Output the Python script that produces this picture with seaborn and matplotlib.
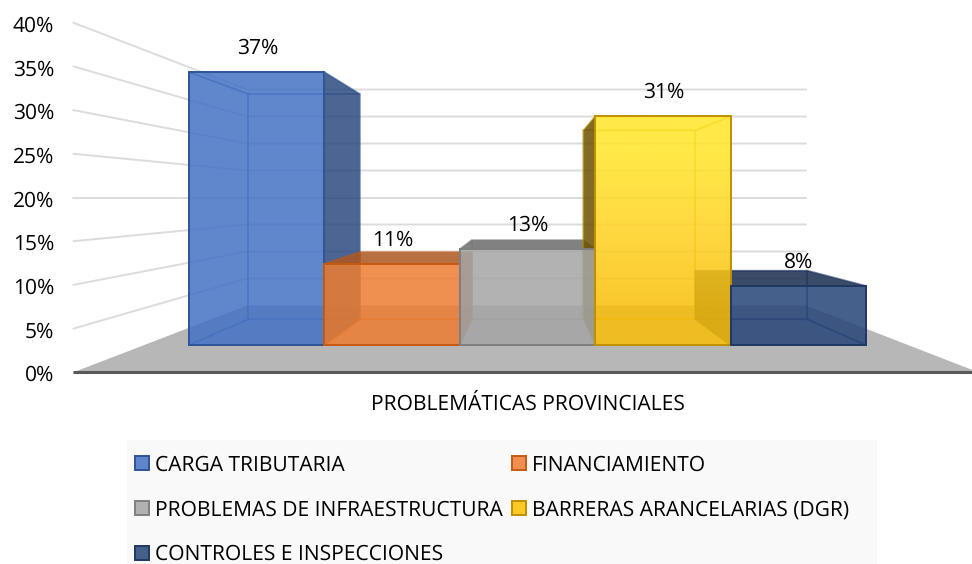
import matplotlib
matplotlib.use("Agg")
import matplotlib.pyplot as plt
import seaborn as sns
from matplotlib.colors import to_rgba
from matplotlib.patches import Patch, Polygon, Rectangle

categorias = ["CARGA TRIBUTARIA", "FINANCIAMIENTO", "PROBLEMAS DE INFRAESTRUCTURA",
              "BARRERAS ARANCELARIAS (DGR)", "CONTROLES E INSPECCIONES"]
valores = [37, 11, 13, 31, 8]
etiquetas = ["37%", "11%", "13%", "31%", "8%"]
ticks_y = [0, 5, 10, 15, 20, 25, 30, 35, 40]
titulo_x = "PROBLEMÁTICAS PROVINCIALES"

colores = ["#4472c4", "#ed7d31", "#a5a5a5", "#ffc000", "#264478"]
bordes = ["#2f5597", "#c55a11", "#7f7f7f", "#bf9000", "#1f3864"]
lados = ["#2c4a7f", "#ad571f", "#6b6b6b", "#6b5100", "#192c4e"]

ALFA = 0.85
# perspectiva: punto de fuga en datos y escala de cada plano
FUGA_X, FUGA_Y = 2.0, 20.0
S_PARED_FRENTE, S_BARRA_FONDO, S_PARED_FONDO = 1.185, 0.826, 0.732
PISO_IZQ, PISO_DER = -0.83, 4.81


def proyectar(x, v, s):
    return FUGA_X + (x - FUGA_X) * s, FUGA_Y + (v - FUGA_Y) * s


sns.set_theme(style="white")
plt.rcParams["font.family"] = ["Open Sans", "DejaVu Sans"]
plt.rcParams["text.hinting"] = "no_hinting"
plt.rcParams["text.hinting_factor"] = 1
TXT = 15

fig = plt.figure(figsize=(9.72, 5.64), dpi=100)
ax = fig.add_axes([189 / 972, (564 - 345) / 564, 677 / 972, 295 / 564])

# barras del frente
sns.barplot(x=categorias, y=valores, hue=categorias, palette=colores, width=1,
            saturation=1, legend=False, ax=ax, zorder=5)
for p, c, b in zip(ax.patches, colores, bordes):
    p.set_facecolor(to_rgba(c, ALFA))
    p.set_edgecolor(b)
    p.set_linewidth(1.4)
    p.set_clip_on(False)

# la barra amarilla tiene degradado
amarilla = ax.patches[3]
amarilla.set_facecolor("none")
degradado = [[to_rgba("#ffe526", ALFA)], [to_rgba("#ffd21e", ALFA)], [to_rgba("#fabf08", ALFA)]]
img = ax.imshow(degradado, extent=(2.5, 3.5, 0, valores[3]), aspect="auto",
                interpolation="bilinear", zorder=4.9)
img.set_clip_path(amarilla)

ax.set_xlim(-0.5, 4.5)
ax.set_ylim(0, 40)
ax.axis("off")

# paredes y piso
for v in ticks_y[1:]:
    puntos = [proyectar(PISO_IZQ, v, S_PARED_FRENTE), proyectar(PISO_IZQ, v, S_PARED_FONDO),
              proyectar(PISO_DER, v, S_PARED_FONDO)]
    ax.plot(*zip(*puntos), color="#dcdcdc", lw=1.4, clip_on=False, zorder=1)
piso = [proyectar(PISO_IZQ, 0, S_PARED_FRENTE), proyectar(PISO_DER, 0, S_PARED_FRENTE),
        proyectar(PISO_DER, 0, S_PARED_FONDO), proyectar(PISO_IZQ, 0, S_PARED_FONDO)]
ax.add_patch(Polygon(piso, closed=True, fc="#b7b7b7", ec="none", clip_on=False, zorder=1.5))
ax.plot([piso[0][0], piso[1][0]], [piso[0][1], piso[1][1]], color="#595959", lw=2.2,
        clip_on=False, zorder=6, solid_capstyle="butt")
for v in ticks_y:
    x, y = proyectar(PISO_IZQ, v, S_PARED_FRENTE)
    ax.annotate(f"{v}%", (x, y), xytext=(-14, -2.5), textcoords="offset points", ha="right",
                va="center", fontsize=TXT, color="black", annotation_clip=False)


def cara(puntos, fc, ec, z):
    ax.add_patch(Polygon(puntos, closed=True, fc=fc, ec=ec, lw=1.2, clip_on=False, zorder=z))


# caras de fondo y laterales: las que quedan fuera del frente van oscuras
for i, v in enumerate(valores):
    izq, der = i - 0.5, i + 0.5
    borde = to_rgba(bordes[i], 0.4)
    tapa = [(izq, v), (der, v), proyectar(der, v, S_BARRA_FONDO), proyectar(izq, v, S_BARRA_FONDO)]
    lat_izq = [(izq, 0), (izq, v), proyectar(izq, v, S_BARRA_FONDO), proyectar(izq, 0, S_BARRA_FONDO)]
    lat_der = [(der, 0), (der, v), proyectar(der, v, S_BARRA_FONDO), proyectar(der, 0, S_BARRA_FONDO)]
    base = [(izq, 0), (der, 0), proyectar(der, 0, S_BARRA_FONDO), proyectar(izq, 0, S_BARRA_FONDO)]
    fondo = [proyectar(izq, 0, S_BARRA_FONDO), proyectar(der, 0, S_BARRA_FONDO),
             proyectar(der, v, S_BARRA_FONDO), proyectar(izq, v, S_BARRA_FONDO)]
    oscuro = to_rgba(lados[i], ALFA)
    z = 2 + i * 0.1
    cara(fondo, "none", borde, z)
    cara(base, "none", borde, z)
    cara(tapa, oscuro if v < FUGA_Y else "none", borde, z)
    cara(lat_izq, oscuro if izq > FUGA_X else "none", borde, z)
    cara(lat_der, oscuro if der < FUGA_X else "none", borde, z)

for i, (v, e) in enumerate(zip(valores, etiquetas)):
    ax.annotate(e, (i, v), xytext=(0.5, 17), textcoords="offset points", ha="center",
                va="center", fontsize=TXT, color="black", zorder=8, annotation_clip=False)

fig.text(528 / 972, 1 - 404 / 564, titulo_x, ha="center", va="center", fontsize=TXT, color="black")

# leyenda
fig.add_artist(Rectangle((127 / 972, 0), 750 / 972, 124 / 564, transform=fig.transFigure,
                         fc="#f9f9f9", ec="none"))
manijas = [Patch(fc=to_rgba(c, ALFA), ec=b, lw=1.4, label=n)
           for n, c, b in zip(categorias, colores, bordes)]
en_columnas = [manijas[0], manijas[2], manijas[4], manijas[1], manijas[3]]
fig.legend(handles=en_columnas, ncol=2, loc="upper left", frameon=False, fontsize=TXT,
           bbox_to_anchor=(127 / 972, 1 - 446.5 / 564), borderaxespad=0, borderpad=0.38,
           handlelength=0.67, handleheight=0.67, handletextpad=0.3, columnspacing=0.43,
           labelspacing=1.15, labelcolor="black")

fig.savefig("out.png", dpi=100)
